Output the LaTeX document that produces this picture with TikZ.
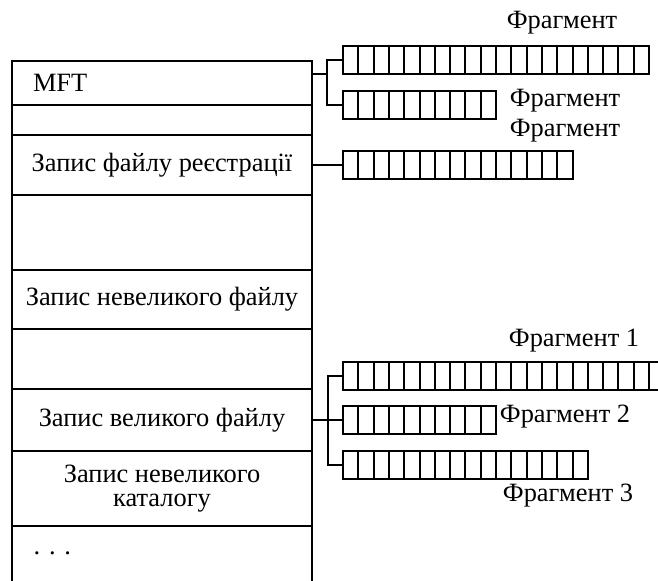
\documentclass[tikz,border=0pt]{standalone}
\usepackage{fontspec}
\setmainfont{Liberation Serif}
\usetikzlibrary{positioning, calc}

\begin{document}
\begin{tikzpicture}[
        x=0.5pt, y=-0.5pt,
        line width=1pt,
        every node/.style={font=\fontsize{13.2}{12}\selectfont},
        row/.style={draw, outer sep=0pt, minimum width=150pt, align=center},
        frag/.style={draw, outer sep=0pt, inner sep=0pt, minimum height=14pt, anchor=north west}
      ]
    \useasboundingbox (0,0) rectangle (658,581);

    % MFT records
    \node[row, anchor=north west, minimum height=22pt, text width=129pt, inner xsep=10.5pt, align=left] (mft) at (12,61) {MFT};
    \node[row, minimum height=15pt, below=0pt of mft] (gapa) {};
    \node[row, minimum height=30pt, below=0pt of gapa] (reg) {Запис файлу реєстрації};
    \node[row, minimum height=37.5pt, below=0pt of reg] (gapb) {};
    \node[row, minimum height=29.5pt, below=0pt of gapb] (small) {Запис невеликого файлу};
    \node[row, minimum height=30pt, below=0pt of small] (gapc) {};
    \node[row, minimum height=31pt, below=0pt of gapc] (big) {Запис великого файлу};
    \node[row, minimum height=37.5pt, below=0pt of big] (dir) {Запис невеликого\\каталогу};
    \node[anchor=west] (more) at (26,553) {. . .};
    \coordinate (bot) at (0,581);
    \draw (dir.south west) -- (dir.south west |- bot);
    \draw (dir.south east) -- (dir.south east |- bot);

    % fragments
    \foreach \nm/\xx/\yy/\n in {fa/343/46/20, fb/343/91/10, fc/343/151/15, fd/343/362/21, fe/343/406/10, ff/343/451/16}{
      \node[frag, minimum width=\n*7.65pt] (\nm) at (\xx,\yy) {};
      \foreach \i in {1,...,\n}
        \draw ($(\nm.north west)+(\i*15.3,0)$) -- ($(\nm.south west)+(\i*15.3,0)$);
    }

    \node[anchor=base] (lfa) at (562,29) {Фрагмент};
    \node[anchor=base] (lfb) at (565,107) {Фрагмент};
    \node[anchor=base] (lfc) at (565,137) {Фрагмент};
    \node[anchor=base] (lfd) at (574,347) {Фрагмент 1};
    \node[anchor=base] (lfe) at (565,423) {Фрагмент 2};
    \node[anchor=base] (lff) at (568,502) {Фрагмент 3};

    % links
    \coordinate (mftj) at (327,74);
    \coordinate (bigj) at (328,420);
    \draw (mft.east |- mftj) -- (mftj);
    \draw (fa.west) -| (mftj) |- (fb.west);
    \draw (reg.east) -- (fc.west);
    \draw (big.east) -- (fe.west);
    \draw (fd.west) -| (bigj) |- (ff.west);

\end{tikzpicture}
\end{document}
